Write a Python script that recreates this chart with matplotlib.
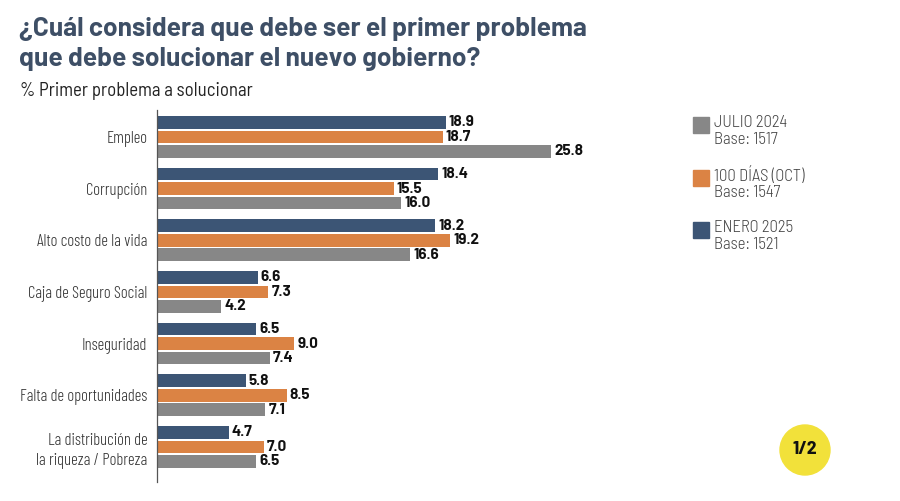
import matplotlib
matplotlib.use("Agg")
import matplotlib.pyplot as plt
from matplotlib.patches import Rectangle, Circle

# data
categorias = ["Empleo", "Corrupción", "Alto costo de la vida", "Caja de Seguro Social",
              "Inseguridad", "Falta de oportunidades", "La distribución de\nla riqueza / Pobreza"]
enero_2025 = [18.9, 18.4, 18.2, 6.6, 6.5, 5.8, 4.7]
oct_100dias = [18.7, 15.5, 19.2, 7.3, 9.0, 8.5, 7.0]
julio_2024 = [25.8, 16.0, 16.6, 4.2, 7.4, 7.1, 6.5]
series_names = ["JULIO 2024", "100 DÍAS (OCT)", "ENERO 2025"]
series_bases = ["Base: 1517", "Base: 1547", "Base: 1521"]

c_blue = "#3c5575"
c_orange = "#db8344"
c_gray = "#878787"
c_title = "#3e4f66"

cond = ["Barlow Condensed", "DejaVu Sans"]
semi = ["Barlow Semi Condensed", "DejaVu Sans"]
wide = ["Barlow", "DejaVu Sans"]

W, H = 900, 501
fig = plt.figure(figsize=(9, 5.01), dpi=100)

# axes: x from 157px, 15.27 px per unit ; y from 110px to 482px
left = 157 / W
ax_w = 30 * 15.27 / W
bottom = 1 - 482 / H
ax_h = (482 - 110) / H
ax = fig.add_axes([left, bottom, ax_w, ax_h])

y = list(range(len(categorias)))
off = 0.28
bh = 0.245
ax.barh([v - off for v in y], enero_2025, height=bh, color=c_blue)
ax.barh(y, oct_100dias, height=bh, color=c_orange)
ax.barh([v + off for v in y], julio_2024, height=bh, color=c_gray)

for vals, d in ((enero_2025, -off), (oct_100dias, 0), (julio_2024, off)):
    for i, v in enumerate(vals):
        ax.text(v + 0.2, i + d, f"{v:.1f}", va="center", ha="left",
                fontsize=11, fontweight="bold", color="#111111", family=wide)

ax.set_xlim(0, 30)
ax.set_ylim(6.68, -0.52)
ax.set_yticks(y)
ax.set_yticklabels(categorias, family=cond, fontweight=300,
                   fontsize=12, color="#333333", ha="right", linespacing=1.35)
ax.tick_params(axis="y", length=0, pad=7)
ax.set_xticks([])
for s in ("top", "right", "bottom"):
    ax.spines[s].set_visible(False)
ax.spines["left"].set_color("#555555")
ax.spines["left"].set_linewidth(0.9)

# title and subtitle
fig.text(19 / W, 1 - 29 / H, "¿Cuál considera que debe ser el primer problema",
         fontsize=19, fontweight="bold", color=c_title, va="center", ha="left", family=wide)
fig.text(19 / W, 1 - 59 / H, "que debe solucionar el nuevo gobierno?",
         fontsize=19, fontweight="bold", color=c_title, va="center", ha="left", family=wide)
fig.text(20 / W, 1 - 91 / H, "% Primer problema a solucionar",
         fontsize=13.5, color="#222222", va="center", ha="left", family=semi)

# legend
leg_colors = [c_gray, c_orange, c_blue]
leg_tops = [117, 170, 222]
for col, top, name, base in zip(leg_colors, leg_tops, series_names, series_bases):
    fig.patches.append(Rectangle((693 / W, 1 - (top + 16) / H), 16 / W, 16 / H,
                                 transform=fig.transFigure, color=col))
    fig.text(714 / W, 1 - (top + 6) / H, name, fontsize=12, color="#444444",
             va="center", ha="left", family=semi, fontweight=300)
    fig.text(714 / W, 1 - (top + 23) / H, base, fontsize=12, color="#444444",
             va="center", ha="left", family=semi, fontweight=300)

# page badge
fig.patches.append(Circle((8.05, 5.01 - 4.50), 0.25, transform=fig.dpi_scale_trans,
                          color="#f2e13a"))
fig.text(805 / W, 1 - 450 / H, "1/2", fontsize=14, fontweight="bold",
         color="#111111", va="center", ha="center", family=semi)

fig.savefig("out.png", dpi=100)
